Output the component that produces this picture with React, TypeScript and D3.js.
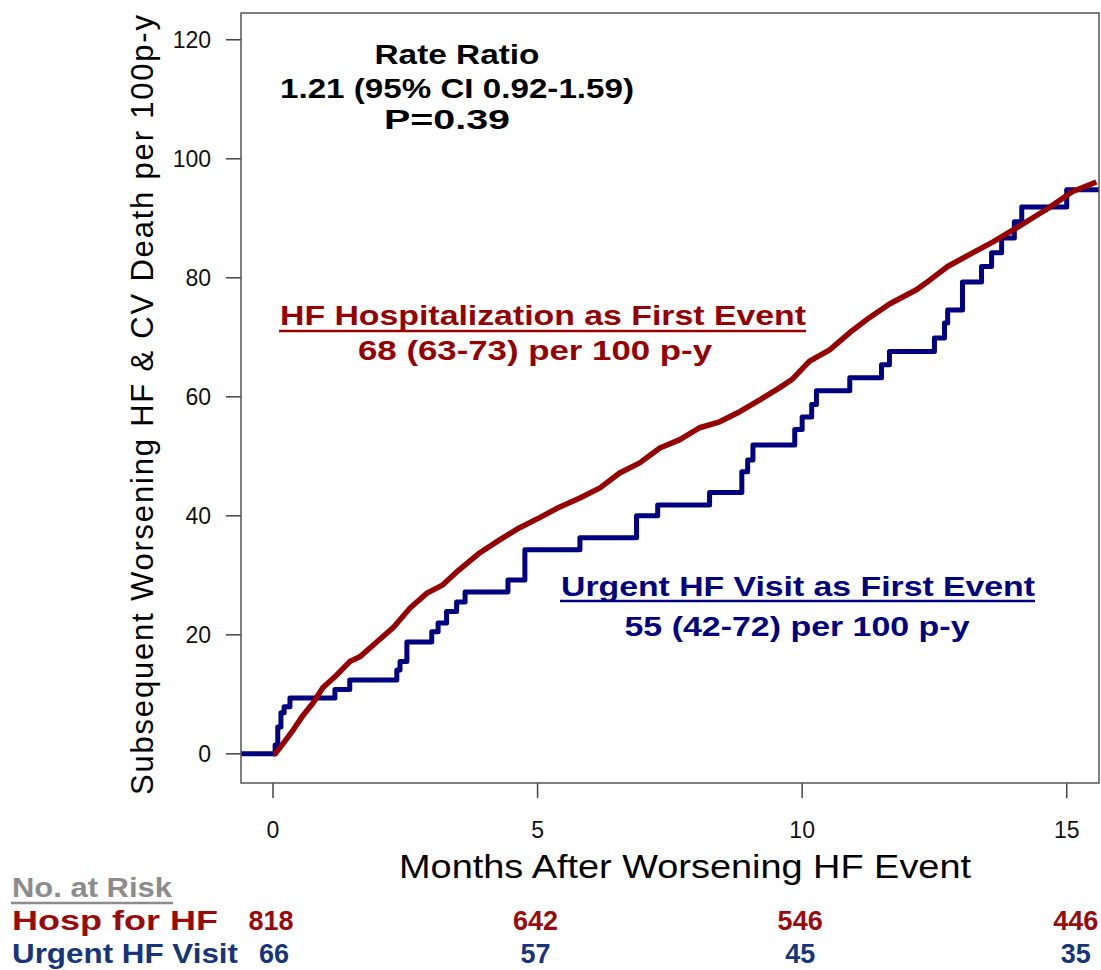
import * as d3 from "d3";

const WIDTH = 1101;
const HEIGHT = 970;
const BOX = { left: 241, right: 1099, top: 13, bottom: 783 };
const FONT = "'Liberation Sans', Arial, sans-serif";

const RED = "#960000";
const NAVY = "#000080";

// axis ticks
const xTicks = [0, 5, 10, 15];
const yTicks = [0, 20, 40, 60, 80, 100, 120];

// HF hospitalization as first event (months / rate)
const hospTimes = [
  0.04, 0.13, 0.38, 0.57, 0.76, 0.94, 1.21, 1.45, 1.64, 1.96, 2.27, 2.59, 2.91,
  3.21, 3.5, 3.91, 4.29, 4.66, 5.04, 5.42, 5.8, 6.18, 6.55, 6.93, 7.31, 7.69,
  8.06, 8.44, 8.82, 9.2, 9.57, 9.82, 10.14, 10.52, 10.9, 11.27, 11.65, 12.16,
  12.41, 12.75, 13.22, 13.6, 13.98, 14.49, 14.67, 15.11, 15.56,
];
const hospValues = [
  0, 1.0, 4.0, 6.5, 8.6, 11.1, 13.3, 15.5, 16.3, 18.8, 21.2, 24.5, 27.0, 28.4,
  30.8, 33.8, 36.0, 38.0, 39.7, 41.5, 43.0, 44.7, 47.2, 48.9, 51.4, 52.8, 54.8,
  55.8, 57.5, 59.5, 61.5, 63.0, 66.0, 67.9, 70.8, 73.3, 75.6, 78.0, 79.6, 81.9,
  84.2, 86.0, 88.0, 90.8, 91.8, 94.5, 96.1,
];

// Urgent HF visit as first event (step function)
const urgentTimes = [
  0.04, 0.09, 0.15, 0.21, 0.32, 1.17, 1.45, 2.34, 2.4, 2.53, 3.0, 3.12, 3.28,
  3.47, 3.63, 4.44, 4.76, 5.8, 6.87, 7.27, 8.25, 8.86, 8.97, 9.07, 9.86, 10.0,
  10.18, 10.27, 10.9, 11.5, 11.65, 12.5, 12.69, 12.75, 13.03, 13.39, 13.58,
  13.77, 14.01, 14.15, 15.0,
];
const urgentValues = [
  1.5, 4.5, 6.9, 7.9, 9.4, 10.8, 12.4, 14.1, 15.5, 18.8, 20.5, 22.0, 23.9, 25.5,
  27.2, 29.2, 34.3, 36.3, 40.0, 41.8, 43.9, 47.4, 49.4, 51.9, 54.5, 56.6, 58.7,
  61.0, 63.2, 65.4, 67.6, 69.9, 72.4, 74.6, 79.3, 81.9, 84.2, 86.7, 89.4, 91.9,
  94.8,
];

// numbers at risk
const riskTimes = [0, 5, 10, 15];
const hospAtRisk = [818, 642, 546, 446];
const urgentAtRisk = [66, 57, 45, 35];

type Pt = [number, number];

export default function App() {
  const x = d3.scaleLinear().domain([-0.605, 15.61]).range([BOX.left, BOX.right]);
  const y = d3.scaleLinear().domain([-4.9, 124.5]).range([BOX.bottom, BOX.top]);
  const [x0, x1] = x.domain();

  const hospPts: Pt[] = [[0, 0], ...hospTimes.map((t, i) => [t, hospValues[i]] as Pt)];
  const urgentPts: Pt[] = [
    [x0, 0],
    ...urgentTimes.map((t, i) => [t, urgentValues[i]] as Pt),
    [x1, urgentValues[urgentValues.length - 1]],
  ];

  const smooth = d3
    .line<Pt>()
    .x((d) => x(d[0]))
    .y((d) => y(d[1]))
    .curve(d3.curveLinear);
  const step = d3
    .line<Pt>()
    .x((d) => x(d[0]))
    .y((d) => y(d[1]))
    .curve(d3.curveStepAfter);

  // last risk column is nudged in so it fits
  const riskX = (t: number, i: number) => x(t) + (i === riskTimes.length - 1 ? 9 : -2);

  return (
    <div style={{ position: "absolute", left: 0, top: 0 }}>
      <svg width={WIDTH} height={HEIGHT} style={{ display: "block", background: "#fff" }} fontFamily={FONT}>
        <defs>
          <clipPath id="plotClip">
            <rect x={BOX.left} y={BOX.top} width={BOX.right - BOX.left} height={BOX.bottom - BOX.top} />
          </clipPath>
        </defs>

        {/* y axis ticks */}
        {yTicks.map((v) => (
          <g key={"y" + v}>
            <line x1={BOX.left - 15} x2={BOX.left} y1={y(v)} y2={y(v)} stroke="#444" strokeWidth={1.5} />
            <text x={211} y={y(v)} dy="0.36em" textAnchor="end" fontSize={23} fill="#111">
              {v}
            </text>
          </g>
        ))}

        {/* x axis ticks */}
        {xTicks.map((v) => (
          <g key={"x" + v}>
            <line x1={x(v)} x2={x(v)} y1={BOX.bottom} y2={BOX.bottom + 15} stroke="#444" strokeWidth={1.5} />
            <text x={x(v)} y={838} textAnchor="middle" fontSize={23} fill="#111">
              {v}
            </text>
          </g>
        ))}

        <text
          transform="translate(153,405) rotate(-90)"
          textAnchor="middle"
          fontSize={31}
          textLength={780}
          lengthAdjust="spacing"
        >
          Subsequent Worsening HF &amp; CV Death per 100p-y
        </text>
        <text x={685} y={878} textAnchor="middle" fontSize={34} textLength={572} lengthAdjust="spacingAndGlyphs">
          Months After Worsening HF Event
        </text>

        {/* curves */}
        <g clipPath="url(#plotClip)" fill="none" strokeLinejoin="round">
          <path d={step(urgentPts) ?? ""} stroke={NAVY} strokeWidth={5} />
          <path d={smooth(hospPts) ?? ""} stroke={RED} strokeWidth={5.5} />
        </g>

        <rect
          x={BOX.left}
          y={BOX.top}
          width={BOX.right - BOX.left}
          height={BOX.bottom - BOX.top}
          fill="none"
          stroke="#555"
          strokeWidth={1.5}
        />

        {/* annotations */}
        <g fontWeight="bold" fontSize={27} textAnchor="middle">
          <text x={457} y={64} textLength={165} lengthAdjust="spacingAndGlyphs">Rate Ratio</text>
          <text x={457} y={98} textLength={354} lengthAdjust="spacingAndGlyphs">1.21 (95% CI 0.92-1.59)</text>
          <text x={447} y={129} textLength={126} lengthAdjust="spacingAndGlyphs">P=0.39</text>

          <text x={543} y={325} fill={RED} textLength={526} lengthAdjust="spacingAndGlyphs">
            HF Hospitalization as First Event
          </text>
          <line x1={279} x2={806} y1={331} y2={331} stroke={RED} strokeWidth={2.5} />
          <text x={535} y={360} fill={RED} textLength={354} lengthAdjust="spacingAndGlyphs">
            68 (63-73) per 100 p-y
          </text>

          <text x={798} y={596} fill={NAVY} textLength={474} lengthAdjust="spacingAndGlyphs">
            Urgent HF Visit as First Event
          </text>
          <line x1={560} x2={1035} y1={601} y2={601} stroke={NAVY} strokeWidth={2.5} />
          <text x={797} y={636} fill={NAVY} textLength={345} lengthAdjust="spacingAndGlyphs">
            55 (42-72) per 100 p-y
          </text>
        </g>

        {/* numbers at risk */}
        <g fontWeight="bold" fontSize={27}>
          <text x={12} y={897} fill="#8c8c8c" textLength={160} lengthAdjust="spacingAndGlyphs">No. at Risk</text>
          <line x1={11} x2={173} y1={903} y2={903} stroke="#8c8c8c" strokeWidth={2.5} />
          <text x={12} y={930} fill="#9b0a0a" textLength={206} lengthAdjust="spacingAndGlyphs">Hosp for HF</text>
          <text x={12} y={963} fill="#17357a" textLength={226} lengthAdjust="spacingAndGlyphs">Urgent HF Visit</text>
          {riskTimes.map((t, i) => (
            <g key={"r" + t} textAnchor="middle">
              <text x={riskX(t, i)} y={930} fill="#9b0a0a">{hospAtRisk[i]}</text>
              <text x={riskX(t, i) + (i === 0 ? 3 : 0)} y={963} fill="#17357a">{urgentAtRisk[i]}</text>
            </g>
          ))}
        </g>
      </svg>
    </div>
  );
}
